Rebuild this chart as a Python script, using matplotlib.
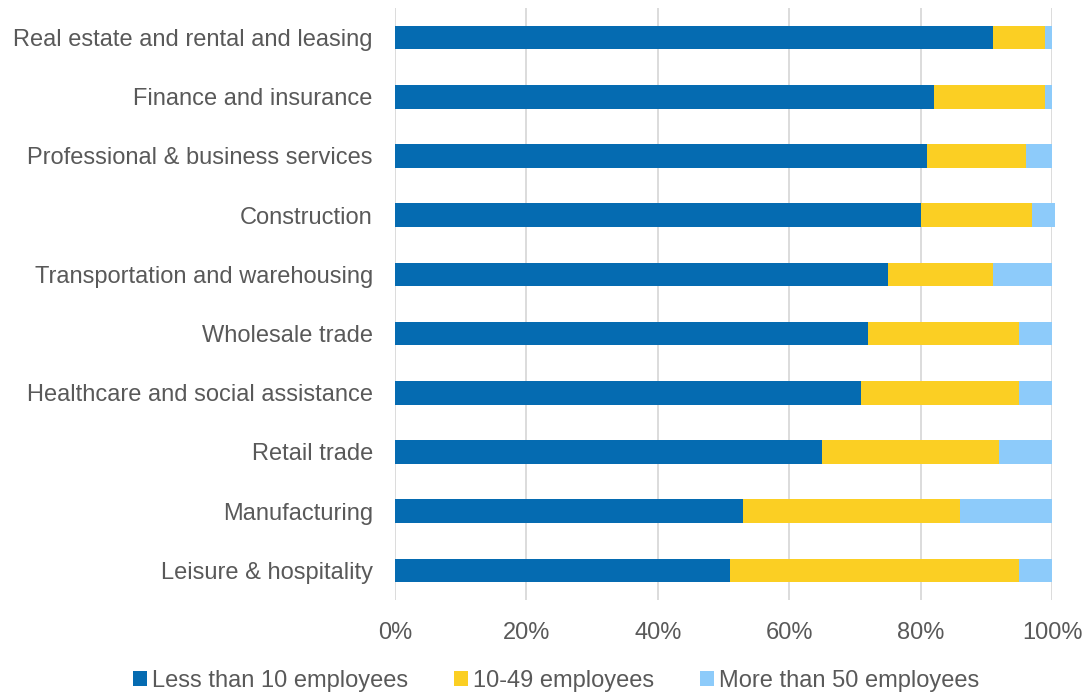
import numpy as np
import matplotlib.pyplot as plt
from matplotlib.ticker import PercentFormatter

plt.rcParams['font.family'] = ['Liberation Sans', 'DejaVu Sans']

industries = [
    'Real estate and rental and leasing',
    'Finance and insurance',
    'Professional & business services',
    'Construction',
    'Transportation and warehousing',
    'Wholesale trade',
    'Healthcare and social assistance',
    'Retail trade',
    'Manufacturing',
    'Leisure & hospitality',
]
under_10 = [91, 82, 81, 80, 75, 72, 71, 65, 53, 51]
from_10_to_49 = [8, 17, 15, 17, 16, 23, 24, 27, 33, 44]
over_50 = [1, 1, 4, 3.5, 9, 5, 5, 8, 14, 5]

series = [
    ('Less than 10 employees', under_10, '#056BB1'),
    ('10-49 employees', from_10_to_49, '#FBCF23'),
    ('More than 50 employees', over_50, '#8DCBFA'),
]

fig = plt.figure(figsize=(10.89, 6.94), dpi=100)
ax = fig.add_axes([395 / 1089, 1 - 600 / 694, 657 / 1089, 592 / 694])

y = np.arange(len(industries))
left = np.zeros(len(industries))
for name, vals, color in series:
    vals = np.array(vals, dtype=float)
    ax.barh(y, vals, left=left, height=0.4, color=color, label=name,
            zorder=2, clip_on=False)
    left += vals

ax.set_ylim(len(industries) - 0.5, -0.5)
ax.set_xlim(0, 100)
ax.set_yticks(y)
ax.set_yticklabels(industries)
ax.set_xticks(np.arange(0, 101, 20))
ax.xaxis.set_major_formatter(PercentFormatter(decimals=0))
ax.tick_params(axis='both', length=0, labelsize=17, colors='#595959')
ax.tick_params(axis='y', pad=16)
ax.tick_params(axis='x', pad=16)
ax.grid(axis='x', color='#D9D9D9', linewidth=1.3, zorder=0)
for s in ax.spines.values():
    s.set_visible(False)

ax.legend(loc='center', bbox_to_anchor=(556 / 1089, 1 - 681 / 694),
          bbox_transform=fig.transFigure, ncol=3, frameon=False,
          fontsize=17, labelcolor='#595959', handlelength=0.6,
          handleheight=0.6, handletextpad=0.2, columnspacing=1.95,
          borderpad=0, borderaxespad=0)

fig.savefig('out.png', dpi=100)
